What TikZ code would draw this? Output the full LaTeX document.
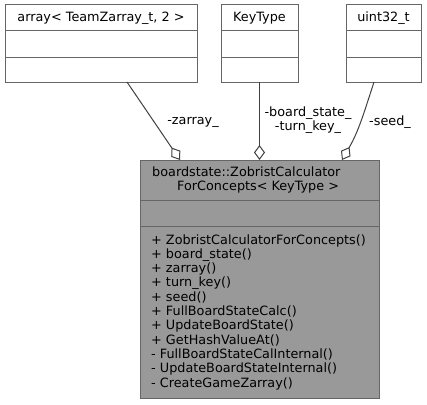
\documentclass[tikz,border=0pt]{standalone}
\usepackage{fontspec}
\setmainfont{DejaVu Sans}
\usetikzlibrary{arrows.meta,positioning}
\definecolor{gray40}{HTML}{666666}
\definecolor{grey25}{HTML}{404040}
\definecolor{gray60}{HTML}{999999}

\tikzset{
  cls/.style={draw=gray40, fill=white, line width=1pt, inner sep=0pt, outer sep=0pt, minimum width=#1},
  calc/.style={cls=#1, fill=gray60},
  agg/.style={{Diamond[open,length=15pt,width=11pt]}-, draw=grey25, line width=1pt},
  lbl/.style={inner sep=0pt, align=center}
}

\begin{document}
\begin{tikzpicture}[x=1pt, y=-1pt, font=\fontsize{12.8pt}{14.3pt}\selectfont]
\useasboundingbox (0,0) rectangle (427,404);

% used classes
\node[cls=192pt, minimum height=26pt] (arrT) at (101,18) {array< TeamZarray\_t, 2 >};
\node[cls=192pt, minimum height=26pt, below=0pt of arrT] (arrA) {};
\node[cls=192pt, minimum height=25pt, below=0pt of arrA] (arrM) {};

\node[cls=77pt, minimum height=26pt] (keyT) at (259.5,18) {KeyType};
\node[cls=77pt, minimum height=26pt, below=0pt of keyT] (keyA) {};
\node[cls=77pt, minimum height=25pt, below=0pt of keyA] (keyM) {};

\node[cls=75pt, minimum height=26pt] (uintT) at (383.5,18) {uint32\_t};
\node[cls=75pt, minimum height=26pt, below=0pt of uintT] (uintA) {};
\node[cls=75pt, minimum height=25pt, below=0pt of uintA] (uintM) {};

% the calculator
\node[calc=239pt, minimum height=40pt] (calcT) at (259.5,180) {};
\node[calc=239pt, minimum height=26pt, below=0pt of calcT] (calcA) {};
\node[calc=239pt, minimum height=172pt, below=0pt of calcA, text width=217pt, align=left] (calcM) {%
+ ZobristCalculatorForConcepts()\\
+ board\_state()\\
+ zarray()\\
+ turn\_key()\\
+ seed()\\
+ FullBoardStateCalc()\\
+ UpdateBoardState()\\
+ GetHashValueAt()\\
- FullBoardStateCalInternal()\\
- UpdateBoardStateInternal()\\
- CreateGameZarray()};
\node[inner sep=0pt, align=left, anchor=west] (calcN) at (152,180)
  {boardstate::ZobristCalculator\\\hspace*{25pt}ForConcepts< KeyType >};

% members
\draw[agg] ([xshift=-79.5pt]calcT.north) -- ([xshift=26pt]arrM.south);
\draw[agg] (calcT.north) -- (keyM.south);
\draw[agg] ([xshift=82.5pt]calcT.north) to[out=60, in=-108] ([xshift=-9.5pt]uintM.south);

\node[lbl] (lbZ) at (193,122) {-zarray\_};
\node[lbl] (lbK) at (308,120) {-board\_state\_\\-turn\_key\_};
\node[lbl] (lbS) at (390,122) {-seed\_};
\end{tikzpicture}
\end{document}
